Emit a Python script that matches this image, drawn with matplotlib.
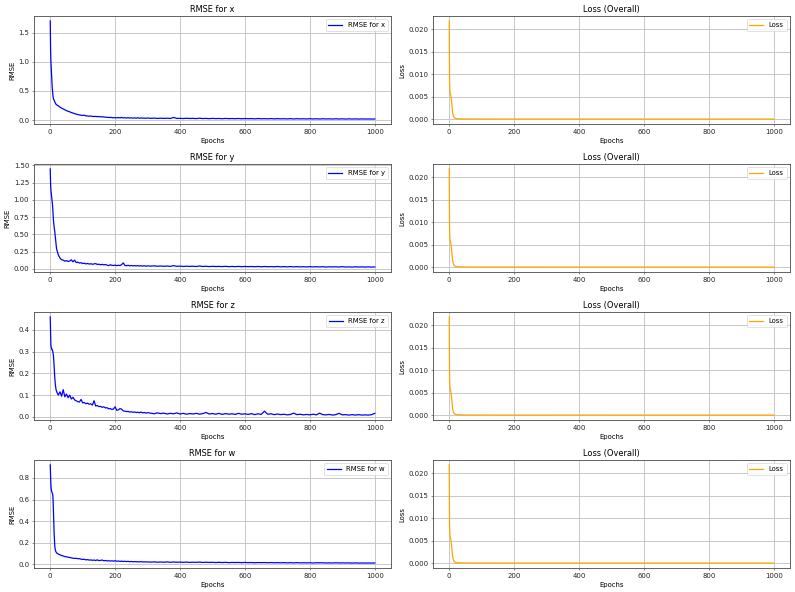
import numpy as np
import matplotlib
matplotlib.use("Agg")
import matplotlib.pyplot as plt

# epoch grid: every epoch 0..20, every 5 epochs 25..300, every 10 epochs 310..1000
epochs = list(range(0, 21)) + list(range(25, 301, 5)) + list(range(310, 1001, 10))

rmse_x = [1.70, 1.25, 1.02, 0.90, 0.78, 0.66, 0.57, 0.50, 0.44, 0.39, 0.36, 0.35, 0.34, 0.33, 0.31, 0.30, 0.29, 0.28, 0.27, 0.265, 0.26,
          0.245, 0.22, 0.205, 0.19, 0.175, 0.162, 0.15, 0.142, 0.128, 0.121,
          0.11, 0.102, 0.094, 0.088, 0.084, 0.079, 0.083, 0.072, 0.070, 0.066,
          0.069, 0.063, 0.060, 0.064, 0.058, 0.061, 0.055, 0.057, 0.052, 0.050,
          0.047, 0.044, 0.046, 0.042, 0.040, 0.041, 0.038, 0.043, 0.037, 0.046,
          0.036, 0.040, 0.035, 0.041, 0.034, 0.038, 0.033, 0.037, 0.032, 0.039,
          0.031, 0.036, 0.032, 0.034, 0.030, 0.035,
          0.030, 0.034, 0.028, 0.032, 0.029, 0.031, 0.027, 0.045, 0.028, 0.030,
          0.026, 0.031, 0.027, 0.029, 0.025, 0.032, 0.026, 0.028, 0.024, 0.029,
          0.025, 0.027, 0.023, 0.028, 0.024, 0.026, 0.023, 0.027, 0.022, 0.026,
          0.023, 0.025, 0.021, 0.026, 0.022, 0.024, 0.021, 0.025, 0.020, 0.024,
          0.021, 0.023, 0.020, 0.024, 0.019, 0.023, 0.020, 0.022, 0.019, 0.023,
          0.019, 0.022, 0.018, 0.022, 0.019, 0.021, 0.018, 0.022, 0.018, 0.021,
          0.017, 0.021, 0.018, 0.020, 0.017, 0.020, 0.017, 0.019, 0.017, 0.018]

rmse_y = [1.45, 1.25, 1.15, 1.10, 1.06, 1.02, 0.99, 0.93, 0.85, 0.77, 0.70, 0.65, 0.61, 0.58, 0.54, 0.50, 0.45, 0.40, 0.35, 0.31, 0.28,
          0.20, 0.155, 0.13, 0.125, 0.11, 0.118, 0.105, 0.112, 0.13, 0.10,
          0.125, 0.09, 0.095, 0.082, 0.088, 0.075, 0.08, 0.07, 0.076, 0.068,
          0.072, 0.065, 0.07, 0.075, 0.062, 0.066, 0.058, 0.063, 0.057, 0.06,
          0.052, 0.045, 0.058, 0.05, 0.047, 0.052, 0.045, 0.05, 0.046, 0.06,
          0.085, 0.048, 0.043, 0.05, 0.042, 0.047, 0.041, 0.046, 0.040, 0.045,
          0.039, 0.044, 0.038, 0.043, 0.037, 0.042,
          0.038, 0.042, 0.036, 0.040, 0.035, 0.039, 0.034, 0.045, 0.035, 0.038,
          0.033, 0.037, 0.034, 0.036, 0.032, 0.040, 0.033, 0.036, 0.031, 0.035,
          0.032, 0.034, 0.031, 0.035, 0.030, 0.033, 0.030, 0.034, 0.029, 0.033,
          0.030, 0.032, 0.029, 0.033, 0.028, 0.032, 0.029, 0.031, 0.028, 0.032,
          0.028, 0.030, 0.027, 0.031, 0.027, 0.030, 0.027, 0.029, 0.026, 0.030,
          0.026, 0.029, 0.026, 0.029, 0.025, 0.028, 0.026, 0.028, 0.025, 0.029,
          0.025, 0.027, 0.024, 0.028, 0.025, 0.027, 0.024, 0.027, 0.024, 0.026]

rmse_z = [0.46, 0.40, 0.33, 0.32, 0.315, 0.31, 0.31, 0.305, 0.30, 0.29, 0.28, 0.26, 0.23, 0.20, 0.18, 0.16, 0.145, 0.135, 0.125, 0.12, 0.115,
          0.10, 0.115, 0.095, 0.125, 0.092, 0.105, 0.088, 0.10, 0.082, 0.09,
          0.078, 0.074, 0.07, 0.068, 0.08, 0.064, 0.066, 0.06, 0.063, 0.058,
          0.06, 0.054, 0.074, 0.05, 0.052, 0.047, 0.048, 0.044, 0.046, 0.041,
          0.042, 0.037, 0.038, 0.034, 0.036, 0.046, 0.03, 0.032, 0.038, 0.035,
          0.027, 0.026, 0.024, 0.025, 0.022, 0.023, 0.021, 0.022, 0.020, 0.021,
          0.019, 0.022, 0.018, 0.020, 0.017, 0.019,
          0.017, 0.014, 0.018, 0.015, 0.017, 0.013, 0.016, 0.014, 0.018, 0.013,
          0.016, 0.012, 0.015, 0.013, 0.016, 0.012, 0.015, 0.020, 0.013, 0.015,
          0.012, 0.016, 0.011, 0.015, 0.012, 0.014, 0.011, 0.016, 0.012, 0.014,
          0.011, 0.015, 0.010, 0.014, 0.011, 0.026, 0.012, 0.014, 0.010, 0.013,
          0.010, 0.012, 0.009, 0.011, 0.017, 0.010, 0.012, 0.009, 0.011, 0.009,
          0.012, 0.009, 0.017, 0.010, 0.009, 0.011, 0.008, 0.010, 0.016, 0.009,
          0.010, 0.008, 0.010, 0.008, 0.010, 0.008, 0.009, 0.008, 0.010, 0.016]

rmse_w = [0.92, 0.82, 0.74, 0.70, 0.68, 0.67, 0.66, 0.655, 0.64, 0.58, 0.48, 0.38, 0.29, 0.22, 0.17, 0.145, 0.13, 0.12, 0.115, 0.11, 0.105,
          0.095, 0.088, 0.082, 0.078, 0.072, 0.07, 0.066, 0.064, 0.06, 0.058,
          0.055, 0.057, 0.052, 0.053, 0.048, 0.046, 0.047, 0.042, 0.044, 0.040,
          0.041, 0.038, 0.040, 0.036, 0.042, 0.035, 0.037, 0.040, 0.034, 0.036,
          0.032, 0.034, 0.031, 0.033, 0.030, 0.034, 0.029, 0.031, 0.028, 0.030,
          0.027, 0.029, 0.026, 0.028, 0.025, 0.027, 0.024, 0.026, 0.024, 0.025,
          0.023, 0.026, 0.022, 0.024, 0.022, 0.023,
          0.021, 0.023, 0.020, 0.022, 0.020, 0.023, 0.019, 0.022, 0.020, 0.021,
          0.019, 0.021, 0.018, 0.020, 0.019, 0.021, 0.018, 0.020, 0.018, 0.019,
          0.017, 0.019, 0.017, 0.019, 0.016, 0.018, 0.017, 0.018, 0.016, 0.018,
          0.016, 0.017, 0.015, 0.017, 0.016, 0.017, 0.015, 0.017, 0.015, 0.016,
          0.015, 0.016, 0.014, 0.016, 0.014, 0.016, 0.014, 0.015, 0.014, 0.015,
          0.013, 0.015, 0.014, 0.015, 0.013, 0.014, 0.013, 0.015, 0.013, 0.014,
          0.013, 0.014, 0.012, 0.014, 0.012, 0.013, 0.012, 0.013, 0.012, 0.013]

loss = [0.0219, 0.0085, 0.0065, 0.0058, 0.0055, 0.0052, 0.0047, 0.0040, 0.0032, 0.0024, 0.0017, 0.0012, 0.0009, 0.0007, 0.0005, 0.0004, 0.0003, 0.00025, 0.0002, 0.00016, 0.00013,
        0.00008, 0.00005, 0.00004, 0.00003, 0.000025, 0.00002, 0.000018, 0.000016, 0.000014, 0.000012,
        0.000011, 0.00001, 0.00001, 0.000009, 0.000009, 0.000008, 0.000008, 0.000008, 0.000007, 0.000007,
        0.000007, 0.000007, 0.000006, 0.000006, 0.000006, 0.000006, 0.000006, 0.000005, 0.000005, 0.000005,
        0.000005, 0.000005, 0.000005, 0.000005, 0.000004, 0.000004, 0.000004, 0.000004, 0.000004, 0.000004,
        0.000004, 0.000004, 0.000004, 0.000004, 0.000003, 0.000003, 0.000003, 0.000003, 0.000003, 0.000003,
        0.000003, 0.000003, 0.000003, 0.000003, 0.000003, 0.000003,
        0.000003, 0.000003, 0.000003, 0.000003, 0.000003, 0.000003, 0.000003, 0.000002, 0.000002, 0.000002,
        0.000002, 0.000002, 0.000002, 0.000002, 0.000002, 0.000002, 0.000002, 0.000002, 0.000002, 0.000002,
        0.000002, 0.000002, 0.000002, 0.000002, 0.000002, 0.000002, 0.000002, 0.000002, 0.000002, 0.000002,
        0.000002, 0.000002, 0.000002, 0.000002, 0.000002, 0.000002, 0.000002, 0.000002, 0.000002, 0.000002,
        0.000002, 0.000002, 0.000002, 0.000002, 0.000001, 0.000001, 0.000001, 0.000001, 0.000001, 0.000001,
        0.000001, 0.000001, 0.000001, 0.000001, 0.000001, 0.000001, 0.000001, 0.000001, 0.000001, 0.000001,
        0.000001, 0.000001, 0.000001, 0.000001, 0.000001, 0.000001, 0.000001, 0.000001, 0.000001, 0.000001]

components = ["x", "y", "z", "w"]
rmse_series = [rmse_x, rmse_y, rmse_z, rmse_w]

plt.rcParams.update({
    "axes.edgecolor": "#555555",
    "axes.linewidth": 1.3,
    "grid.color": "#c4c4c4",
    "grid.linewidth": 1.3,
    "xtick.color": "#333333",
    "ytick.color": "#333333",
    "xtick.labelcolor": "#222222",
    "ytick.labelcolor": "#222222",
    "legend.edgecolor": "#cccccc",
})

fig, axes = plt.subplots(4, 2, figsize=(16, 11.915), dpi=49.6875)
for i, (comp, vals) in enumerate(zip(components, rmse_series)):
    ax = axes[i, 0]
    ax.plot(epochs, vals, color="blue", linewidth=1.8, label=f"RMSE for {comp}")
    ax.set_title(f"RMSE for {comp}")
    ax.set_xlabel("Epochs")
    ax.set_ylabel("RMSE")
    ax.legend(loc="upper right")
    ax.grid(True)

    ax = axes[i, 1]
    ax.plot(epochs, loss, color="orange", linewidth=1.8, label="Loss")
    ax.set_title("Loss (Overall)")
    ax.set_xlabel("Epochs")
    ax.set_ylabel("Loss")
    ax.legend(loc="upper right")
    ax.grid(True)

fig.subplots_adjust(left=34 / 795, right=790 / 795, top=1 - 16 / 592, bottom=24 / 592,
                    wspace=42 / 357, hspace=40 / 108)
fig.savefig("out.png", dpi=49.6875)
